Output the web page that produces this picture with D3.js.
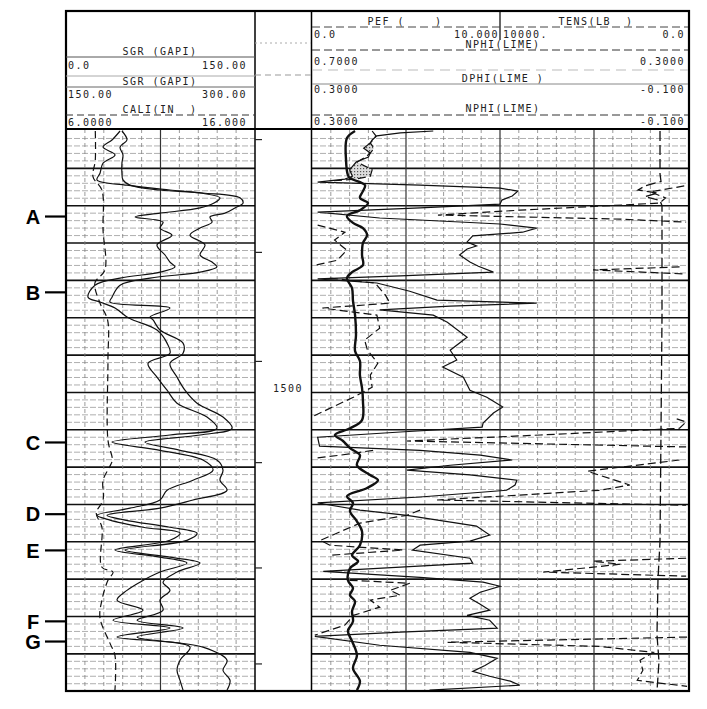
<!DOCTYPE html>
<html>
<head>
<meta charset="utf-8">
<title>Well log</title>
<style>
body { margin:0; background:#fff; }
#log text { font-family: "DejaVu Sans Mono", "Liberation Mono", monospace; }
</style>
</head>
<body>
<svg id="log" width="707" height="709"></svg>
<script src="https://cdnjs.cloudflare.com/ajax/libs/d3/7.8.5/d3.min.js"></script>
<script>
// ---- curve data (depth in ft, values in log units) ----
var grDepth = [1430, 1432.4, 1434.3, 1436.4, 1438.6, 1441.3, 1443.1, 1444.5, 1445.8, 1446.6,
    1447.9, 1449.3, 1450.6, 1452.0, 1453.0, 1454.4, 1456.0, 1457.9, 1460.5, 1463.2,
    1465.1, 1466.4, 1467.8, 1469.4, 1471.3, 1474.5, 1475.8, 1477.4, 1479.8, 1480.6,
    1483.3, 1486.8, 1489.5, 1492.2, 1495.9, 1499.4, 1502.9, 1506.6, 1509.6, 1511.4,
    1513.3, 1515.5, 1518.1, 1520.8, 1523.5, 1526.2, 1528.8, 1531.0, 1532.9, 1534.2,
    1536.1, 1537.7, 1539.6, 1542.2, 1544.1, 1545.7, 1548.1, 1550.8, 1553.0, 1555.6,
    1558.3, 1561.0, 1563.1, 1565.5, 1568.2, 1571.7, 1574.4, 1577.1, 1579.7];
var sgrA = [42.9, 36.5, 29.4, 38.9, 29.4, 27.0, 24.6, 48.4, 82.5, 106.4,
    122.2, 117.5, 106.4, 74.6, 54.8, 77.0, 74.6, 84.1, 72.2, 78.6,
    82.5, 86.5, 74.6, 42.9, 23.0, 17.5, 27.0, 38.9, 48.4, 53.2,
    72.2, 80.2, 82.5, 65.1, 72.2, 80.2, 88.1, 111.9, 119.8, 82.5,
    36.5, 74.6, 108.7, 116.7, 100.8, 80.2, 74.6, 50.8, 24.6, 34.9,
    61.1, 90.5, 82.5, 38.9, 74.6, 96.0, 74.6, 58.7, 48.4, 40.5,
    61.1, 37.3, 82.5, 40.5, 98.4, 90.5, 88.1, 90.5, 92.9];
var sgrB = [44.4, 48.4, 42.9, 45.2, 44.4, 44.4, 45.2, 50.8, 74.6, 108.7,
    138.1, 140.5, 134.1, 126.2, 114.3, 115.9, 106.4, 98.4, 110.3, 106.4,
    115.9, 119.8, 106.4, 66.7, 42.9, 36.5, 34.9, 82.5, 66.7, 69.1,
    74.6, 92.9, 92.9, 82.5, 88.1, 94.4, 104.0, 124.6, 131.8, 106.4,
    62.7, 90.5, 119.8, 124.6, 122.2, 127.8, 100.8, 74.6, 32.5, 46.8,
    82.5, 104.0, 96.0, 46.8, 82.5, 106.4, 88.1, 77.0, 82.5, 74.6,
    77.0, 56.4, 92.9, 56.4, 108.7, 127.8, 124.6, 130.2, 127.8];

var caliDepth = [1430, 1437.8, 1442.3, 1445.8, 1456.5, 1467.2, 1470.7, 1476.1, 1480.6, 1491.3,
    1512.8, 1518.1, 1520.0, 1523.5, 1528.8, 1532.3, 1536.1, 1546.8, 1548.1, 1550.3,
    1555.6, 1560.4, 1567.2, 1570.4, 1579.7];
var caliValues = [7.55, 7.55, 7.43, 7.9, 7.96, 8.06, 7.53, 7.8, 8.2, 8.22,
    8.22, 8.45, 8.3, 7.96, 7.96, 7.6, 7.9, 7.9, 8.49, 8.22,
    7.9, 7.8, 8.33, 8.59, 8.59];

var pefDepth = [1430, 1431.9, 1437.8, 1441.8, 1442.6, 1444.5, 1446.1, 1447.9, 1449.3, 1451.2,
    1452.8, 1454.6, 1456.0, 1457.9, 1460.0, 1463.2, 1465.9, 1467.8, 1469.4, 1472.1,
    1475.5, 1479.3, 1484.6, 1488.9, 1491.6, 1495.4, 1498.8, 1502.3, 1507.4, 1509.6,
    1511.4, 1513.0, 1514.9, 1516.8, 1519.5, 1522.1, 1523.5, 1525.6, 1527.8, 1529.6,
    1531.8, 1534.5, 1537.2, 1540.9, 1543.6, 1545.2, 1547.1, 1550.3, 1552.4, 1554.3,
    1555.9, 1558.6, 1561.3, 1563.9, 1566.6, 1570.4, 1573.9, 1577.3, 1579.7];
var pefValues = [2.29, 1.86, 1.81, 1.91, 2.02, 2.82, 2.71, 2.55, 2.98, 2.55,
    1.86, 2.18, 2.71, 2.93, 2.71, 2.66, 2.71, 2.13, 1.86, 2.13,
    2.18, 2.29, 2.34, 2.29, 2.55, 2.55, 2.66, 2.71, 2.66, 2.02,
    1.22, 1.65, 2.02, 2.55, 2.39, 3.09, 3.51, 2.93, 1.86, 2.18,
    2.02, 2.39, 2.66, 2.55, 2.13, 2.45, 2.02, 1.91, 2.18, 2.02,
    2.29, 2.13, 2.18, 1.91, 2.13, 2.39, 2.18, 2.55, 2.39];

var dphiDepth = [1430.0, 1430.5, 1431.3, 1432.4, 1433.2, 1434.6, 1435.9, 1437.0, 1438.3, 1440.4,
    1442.1, 1442.9, 1443.7, 1444.5, 1445.3, 1446.1, 1447.4, 1448.5, 1449.6, 1450.6,
    1451.7, 1453.3, 1454.9, 1456.0, 1457.1, 1458.1, 1459.7, 1460.8, 1461.6, 1463.2,
    1465.1, 1466.2, 1467.8, 1468.8, 1469.6, 1470.7, 1472.9, 1475.3, 1476.1, 1476.9,
    1477.9, 1479.3, 1481.2, 1485.2, 1488.7, 1491.3, 1493.2, 1495.9, 1499.4, 1501.3,
    1503.9, 1505.5, 1508.2, 1509.3, 1510.6, 1512.0, 1514.4, 1515.5, 1516.8, 1518.1,
    1519.5, 1520.8, 1522.1, 1523.5, 1524.8, 1526.2, 1528.0, 1529.6, 1531.5, 1532.9,
    1535.8, 1538.2, 1539.8, 1540.9, 1542.2, 1544.4, 1545.7, 1546.8, 1547.9, 1549.5,
    1550.8, 1551.9, 1553.5, 1555.1, 1556.7, 1558.3, 1559.7, 1561.0, 1563.1, 1564.2,
    1565.3, 1567.7, 1569.6, 1571.2, 1573.1, 1574.7, 1576.0, 1577.3, 1578.4, 1579.7];
var dphiValues = [0.171, 0.206, 0.231, 0.236, 0.238, 0.245, 0.238, 0.240, 0.253, 0.260,
    0.257, 0.265, 0.294, 0.185, 0.100, 0.081, 0.087, 0.098, 0.100, 0.185,
    0.294, 0.228, 0.100, 0.061, 0.076, 0.129, 0.135, 0.125, 0.135, 0.143,
    0.132, 0.123, 0.107, 0.206, 0.294, 0.231, 0.196, 0.167, 0.061, 0.153,
    0.228, 0.171, 0.156, 0.135, 0.153, 0.146, 0.161, 0.139, 0.132, 0.114,
    0.097, 0.107, 0.118, 0.119, 0.206, 0.294, 0.292, 0.185, 0.121, 0.087,
    0.153, 0.199, 0.132, 0.082, 0.084, 0.093, 0.185, 0.294, 0.249, 0.199,
    0.125, 0.111, 0.132, 0.185, 0.193, 0.132, 0.129, 0.206, 0.288, 0.185,
    0.118, 0.100, 0.121, 0.132, 0.121, 0.111, 0.135, 0.111, 0.103, 0.206,
    0.297, 0.228, 0.132, 0.103, 0.116, 0.129, 0.111, 0.089, 0.079, 0.175];

// NPHI above 0.30 is drawn on the 0.70-0.30 backup scale
var nphiDepth = [1430.0, 1431.3, 1432.4, 1433.2, 1434.6, 1435.9, 1437.0, 1438.3, 1440.4, 1442.1,
    1442.9, 1443.4, 1444.7, 1446.3, 1447.9, 1449.3, 1451.2, 1452.5, 1453.6, 1454.4,
    1455.2, 1457.1, 1459.2, 1461.9, 1464.6, 1465.9, 1466.4, 1467.2, 1468.3, 1469.4,
    1470.7, 1473.9, 1476.1, 1477.4, 1479.3, 1482.8, 1486.0, 1488.7, 1492.2, 1495.4,
    1498.6, 1501.3, 1503.9, 1506.3, 1507.1, 1507.9, 1509.6, 1511.4, 1513.0, 1514.6,
    1515.5, 1516.8, 1517.6, 1518.1, 1521.1, 1524.8, 1526.2, 1528.8, 1530.2, 1531.5,
    1532.9, 1535.0, 1539.6, 1540.9, 1542.2, 1543.6, 1544.4, 1545.2, 1546.0, 1546.8,
    1548.1, 1549.2, 1550.3, 1551.1, 1553.0, 1554.3, 1555.6, 1557.5, 1559.7, 1562.3,
    1565.0, 1565.5, 1566.9, 1568.0, 1569.6, 1571.7, 1574.4, 1577.1, 1578.7, 1579.7];
var nphiValues = [0.236, 0.232, 0.235, 0.238, 0.234, 0.238, 0.243, 0.252, 0.236, 0.238,
    0.254, 0.281, 0.304, 0.340, 0.324, 0.330, 0.479, 0.566, 0.372, 0.302,
    0.294, 0.265, 0.276, 0.263, 0.273, 0.296, 0.309, 0.401, 0.302, 0.281,
    0.233, 0.222, 0.217, 0.289, 0.231, 0.228, 0.244, 0.241, 0.230, 0.238,
    0.236, 0.256, 0.278, 0.298, 0.312, 0.302, 0.309, 0.457, 0.599, 0.302,
    0.235, 0.270, 0.297, 0.309, 0.407, 0.362, 0.394, 0.567, 0.302, 0.185,
    0.199, 0.249, 0.291, 0.281, 0.203, 0.281, 0.302, 0.401, 0.372, 0.401,
    0.454, 0.302, 0.260, 0.196, 0.217, 0.206, 0.238, 0.228, 0.256, 0.265,
    0.297, 0.301, 0.556, 0.394, 0.337, 0.351, 0.348, 0.354, 0.301, 0.297];

var tensDepth = [1430, 1441.5, 1443.5, 1444.7, 1445.8, 1446.6, 1447.6, 1448.6, 1450, 1480,
    1510, 1540, 1550, 1565, 1572, 1580];
var tensValues = [1489, 1489, 1436, 2287, 2660, 1596, 2287, 1489, 1383, 1383,
    1436, 1489, 1596, 1649, 1543, 1649];

var depthTicks = [1432.3, 1462.5, 1491.7, 1518.8, 1547.0, 1572.7];
var depthLabels = [1500];
var markerLabels = ["A", "B", "C", "D", "E", "F", "G"];
var markerDepths = [1452.9, 1473.2, 1513.4, 1532.6, 1542.3, 1561.3, 1566.7];

var leftNames = ["SGR (GAPI)", "SGR (GAPI)", "CALI(IN  )"];
var leftScales = [["0.0", "150.00"], ["150.00", "300.00"], ["6.0000", "16.000"]];
var topNames = ["PEF (    )", "TENS(LB  )"];
var topScales = [["0.0", "10.000"], ["10000.", "0.0"]];
var rightNames = ["NPHI(LIME)", "DPHI(LIME )", "NPHI(LIME)"];
var rightScales = [["0.7000", "0.3000"], ["0.3000", "-0.100"], ["0.3000", "-0.100"]];

// ---- layout ----
var frameTop = 11, frameBottom = 691, hdrBottom = 129;
var t1 = [66, 255], t2 = [312, 688];

var svg = d3.select('#log');

var y = d3.scaleLinear().domain([1430, 1580]).range([131, 691.2]);
var xGR = d3.scaleLinear().domain([0, 150]).range(t1);
var xCali = d3.scaleLinear().domain([6, 16]).range(t1);
var xPef = d3.scaleLinear().domain([0, 10]).range([312, 500]);
var xTens = d3.scaleLinear().domain([10000, 0]).range([500, 688]);
var xPor = d3.scaleLinear().domain([0.3, -0.1]).range(t2);
var xPorBk = d3.scaleLinear().domain([0.7, 0.3]).range(t2);
var xDiv = d3.scaleLinear().domain([0, 20]).range(t2);

var defs = svg.append('defs');
[['clip1', t1], ['clip2', t2]].forEach(function(c){
    defs.append('clipPath').attr('id', c[0]).append('rect')
        .attr('x', c[1][0]).attr('y', hdrBottom)
        .attr('width', c[1][1] - c[1][0]).attr('height', frameBottom - hdrBottom);
});
var pat = defs.append('pattern').attr('id', 'dots')
    .attr('width', 3).attr('height', 3).attr('patternUnits', 'userSpaceOnUse');
pat.append('rect').attr('width', 3).attr('height', 3).attr('fill', '#dcdcdc');
pat.append('rect').attr('width', 1.2).attr('height', 1.2).attr('fill', '#555');

// ---- grid ----
var minorDepths = d3.range(1432, 1580, 2).filter(function(d){ return d % 10 !== 0; });
var majorDepths = d3.range(1440, 1580, 10);
var grid = svg.append('g');
[t1, t2].forEach(function(t){
    grid.append('g').selectAll('line').data(minorDepths).join('line')
        .attr('x1', t[0]).attr('x2', t[1])
        .attr('y1', function(d){ return y(d); }).attr('y2', function(d){ return y(d); })
        .attr('stroke', '#8c8c8c').attr('stroke-width', 0.7).attr('stroke-dasharray', '6,2');
    grid.append('g').selectAll('line').data(majorDepths).join('line')
        .attr('x1', t[0]).attr('x2', t[1])
        .attr('y1', function(d){ return y(d); }).attr('y2', function(d){ return y(d); })
        .attr('stroke', '#111').attr('stroke-width', 1.6);
});
grid.append('g').selectAll('line').data(d3.range(15, 150, 15)).join('line')
    .attr('x1', function(d){ return xGR(d); }).attr('x2', function(d){ return xGR(d); })
    .attr('y1', hdrBottom).attr('y2', frameBottom)
    .attr('stroke', function(d){ return d === 75 ? '#333' : '#808080'; })
    .attr('stroke-width', function(d){ return d === 75 ? 1.2 : 0.8; })
    .attr('stroke-dasharray', function(d){ return d === 75 ? null : '4,3'; });
grid.append('g').selectAll('line').data(d3.range(1, 20)).join('line')
    .attr('x1', function(d){ return xDiv(d); }).attr('x2', function(d){ return xDiv(d); })
    .attr('y1', hdrBottom).attr('y2', frameBottom)
    .attr('stroke', function(d){ return d % 5 === 0 ? '#333' : '#808080'; })
    .attr('stroke-width', function(d){ return d % 5 === 0 ? 1.2 : 0.8; })
    .attr('stroke-dasharray', function(d){ return d % 5 === 0 ? null : '4,3'; });

// ---- track 1 curves ----
var tr1 = svg.append('g').attr('clip-path', 'url(#clip1)');
function drawCurve(g, depths, values, xs, width, dash, curve) {
    var line = d3.line()
        .x(function(d){ return xs(d[1]); })
        .y(function(d){ return y(d[0]); })
        .curve(curve || d3.curveLinear);
    g.append('path').datum(d3.zip(depths, values))
        .attr('d', line).attr('fill', 'none')
        .attr('stroke', '#111').attr('stroke-width', width)
        .attr('stroke-dasharray', dash);
}
drawCurve(tr1, caliDepth, caliValues, xCali, 1.2, '7,4', d3.curveCatmullRom);
drawCurve(tr1, grDepth, sgrA, xGR, 1.2, null, d3.curveCatmullRom);
drawCurve(tr1, grDepth, sgrB, xGR, 1.2, null, d3.curveCatmullRom);

// ---- track 2/3 curves ----
var tr2 = svg.append('g').attr('clip-path', 'url(#clip2)');

// neutron-density crossover shading
var dphiAt = d3.scaleLinear().domain(dphiDepth).range(dphiValues);
var nphiAt = d3.scaleLinear().domain(nphiDepth.slice(0, 12)).range(nphiValues.slice(0, 12));
var xoverDepths = d3.range(1430, 1443.4, 0.05);
tr2.append('path').datum(xoverDepths)
    .attr('d', d3.area()
        .y(function(d){ return y(d); })
        .x0(function(d){ return xPor(dphiAt(d)); })
        .x1(function(d){ return Math.max(xPor(dphiAt(d)), xPor(nphiAt(d))); }))
    .attr('fill', 'url(#dots)').attr('stroke', 'none');

drawCurve(tr2, tensDepth, tensValues, xTens, 1.3, '10,4');
drawCurve(tr2, dphiDepth, dphiValues, xPor, 1.2, null);

// NPHI split into main / backup scale runs
var runs = [], prev = null;
nphiDepth.forEach(function(d, i){
    var v = nphiValues[i], bk = v > 0.3;
    if (bk !== prev) { runs.push({ bk: bk, pts: [] }); prev = bk; }
    runs[runs.length - 1].pts.push([d, v]);
});
runs.forEach(function(r){
    var xs = r.bk ? xPorBk : xPor;
    tr2.append('path').datum(r.pts)
        .attr('d', d3.line().x(function(d){ return xs(d[1]); }).y(function(d){ return y(d[0]); }))
        .attr('fill', 'none').attr('stroke', '#111').attr('stroke-width', 1.2)
        .attr('stroke-dasharray', '8,4');
});

drawCurve(tr2, pefDepth, pefValues, xPef, 2.4, null, d3.curveCatmullRom);

// ---- frame ----
var frame = svg.append('g').attr('stroke', '#000').attr('fill', 'none');
frame.append('rect').attr('x', 66).attr('y', frameTop)
    .attr('width', 623).attr('height', frameBottom - frameTop).attr('stroke-width', 2.2);
frame.append('line').attr('x1', 255).attr('x2', 255).attr('y1', frameTop).attr('y2', frameBottom).attr('stroke-width', 1.5);
frame.append('line').attr('x1', 311.5).attr('x2', 311.5).attr('y1', frameTop).attr('y2', frameBottom).attr('stroke-width', 1.5);
frame.append('line').attr('x1', 66).attr('x2', 689).attr('y1', hdrBottom).attr('y2', hdrBottom).attr('stroke-width', 2.2);
frame.append('line').attr('x1', 500).attr('x2', 500).attr('y1', frameTop).attr('y2', 40).attr('stroke-width', 1.2);

// header rule lines
var rules = [
    [66, 255, 57, '#555', null], [66, 255, 76, '#aaa', null], [66, 255, 87, '#666', null],
    [66, 255, 115, '#333', '7,4'],
    [255, 311, 43, '#aaa', '2,3'], [255, 311, 75, '#999', '6,4'],
    [312, 688, 27, '#444', '8,4'], [312, 688, 50, '#333', '8,4'], [312, 688, 70, '#bbb', '10,6'],
    [312, 688, 84, '#888', null], [312, 688, 115, '#333', '8,4']
];
svg.append('g').selectAll('line').data(rules).join('line')
    .attr('x1', function(d){ return d[0]; }).attr('x2', function(d){ return d[1]; })
    .attr('y1', function(d){ return d[2]; }).attr('y2', function(d){ return d[2]; })
    .attr('stroke', function(d){ return d[3]; }).attr('stroke-width', 1)
    .attr('stroke-dasharray', function(d){ return d[4]; });

// ---- header text ----
function txt(x, yy, s, anchor) {
    return svg.append('text').attr('x', x).attr('y', yy)
        .attr('text-anchor', anchor || 'start')
        .attr('font-size', 10).attr('letter-spacing', 1.5).attr('fill', '#222')
        .style('white-space', 'pre').text(s);
}
var leftNameY = [55, 85, 113], leftScaleY = [69, 97.5, 126];
leftNames.forEach(function(n, i){
    txt(160, leftNameY[i], n, 'middle');
    txt(68, leftScaleY[i], leftScales[i][0]);
    txt(247, leftScaleY[i], leftScales[i][1], 'end');
});
txt(405, 25, topNames[0], 'middle');
txt(596, 25, topNames[1], 'middle');
txt(314, 38, topScales[0][0]);
txt(499, 38, topScales[0][1], 'end');
txt(503, 38, topScales[1][0]);
txt(685, 38, topScales[1][1], 'end');
var rightNameY = [48, 82, 112], rightScaleY = [65, 93, 125];
rightNames.forEach(function(n, i){
    txt(503, rightNameY[i], n, 'middle');
    txt(314, rightScaleY[i], rightScales[i][0]);
    txt(685, rightScaleY[i], rightScales[i][1], 'end');
});

// ---- depth track ----
svg.append('g').selectAll('line').data(depthTicks).join('line')
    .attr('x1', 255).attr('x2', 262)
    .attr('y1', function(d){ return y(d); }).attr('y2', function(d){ return y(d); })
    .attr('stroke', '#222').attr('stroke-width', 1.2);
depthLabels.forEach(function(d){ txt(288, y(d), String(d), 'middle'); });

// ---- zone markers ----
var mk = svg.append('g');
mk.selectAll('line').data(markerDepths).join('line')
    .attr('x1', 45).attr('x2', 66)
    .attr('y1', function(d){ return y(d); }).attr('y2', function(d){ return y(d); })
    .attr('stroke', '#000').attr('stroke-width', 2.2);
mk.selectAll('text').data(markerDepths).join('text')
    .attr('x', 33).attr('y', function(d){ return y(d); }).attr('dy', '0.36em')
    .attr('text-anchor', 'middle')
    .style('font-family', '"Liberation Sans", Arial, sans-serif')
    .style('font-weight', 'bold').style('font-size', '20px')
    .text(function(d, i){ return markerLabels[i]; });
</script>
</body>
</html>
